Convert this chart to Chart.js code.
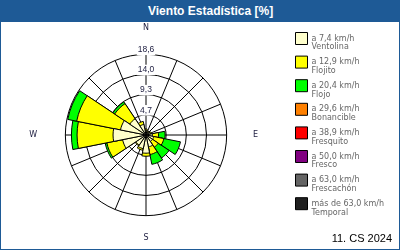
<!DOCTYPE html>
<html>
<head>
<meta charset="utf-8">
<script src="https://cdn.jsdelivr.net/npm/chart.js@4/dist/chart.umd.min.js"></script>
<style>
  html, body { margin: 0; padding: 0; background: #fff; }
  #frame { position: relative; width: 400px; height: 250px; box-sizing: border-box; border: 1px solid #1e5a96; overflow: hidden; }
  #head { position: absolute; left: 0; top: 0; width: 100%; height: 21px; background: #1e5a96; color: #fff;
          font: bold 12px "Liberation Sans", Arial, sans-serif; line-height: 21px; z-index: 2; }
  #head span { position: absolute; left: 147px; }
  canvas { position: absolute; left: -1px; top: -1px; }
  #foot { position: absolute; right: 7px; top: 231px; font: 11px "Liberation Sans", Arial, sans-serif; color: #000; z-index: 2; }
</style>
</head>
<body>
<div id="frame">
  <div id="head"><span>Viento Estadística [%]</span></div>
  <canvas id="rose" width="400" height="250"></canvas>
  <div id="foot">11. CS 2024</div>
</div>
<script>
// 16 directions, clockwise from north
const directions = ["N", "NNE", "NE", "ENE", "E", "ESE", "SE", "SSE", "S", "SSW", "SW", "WSW", "W", "WNW", "NW", "NNW"];
const compassLabels = ["N", "", "", "", "E", "", "", "", "S", "", "", "", "W", "", "", ""];

// frequency [%] per direction for each speed class
const ventolina  = [1.0, 0.8, 0.8, 1.0, 1.5, 1.8, 1.8, 2.8, 4.2, 3.2, 2.8, 5.5, 7.6, 6.0, 4.5, 2.5];
const flojito    = [0.4, 0.2, 0.2, 0.3, 1.4, 2.4, 1.6, 1.8, 0.7, 0.4, 0.2, 3.7, 8.3, 10.3, 4.2, 0.7];
const flojo      = [0, 0, 0, 0, 1.5, 3.9, 3.0, 2.3, 0, 0, 0, 0.4, 1.3, 2.1, 0.5, 0];
const bonancible = [0, 0, 0, 0, 0, 0, 0, 0, 0, 0, 0, 0, 0, 0, 0, 0];
const fresquito  = [0, 0, 0, 0, 0, 0, 0, 0, 0, 0, 0, 0, 0, 0, 0, 0];
const fresco     = [0, 0, 0, 0, 0, 0, 0, 0, 0, 0, 0, 0, 0, 0, 0, 0];
const frescachon = [0, 0, 0, 0, 0, 0, 0, 0, 0, 0, 0, 0, 0, 0, 0, 0];
const temporal   = [0, 0, 0, 0, 0, 0, 0, 0, 0, 0, 0, 0, 0, 0, 0, 0];

const speedRanges = ["a 7,4 km/h", "a 12,9 km/h", "a 20,4 km/h", "a 29,6 km/h", "a 38,9 km/h", "a 50,0 km/h", "a 63,0 km/h", "más de 63,0 km/h"];
const speedNames = ["Ventolina", "Flojito", "Flojo", "Bonancible", "Fresquito", "Fresco", "Frescachón", "Temporal"];
const speedColors = ["#ffffcc", "#ffff00", "#00ff00", "#ff8000", "#ff0000", "#800080", "#646464", "#202020"];
const classes = [ventolina, flojito, flojo, bonancible, fresquito, fresco, frescachon, temporal];

const tickValues = [0, 4.65, 9.3, 13.95, 18.6];
const tickLabels = ["", "4,7", "9,3", "14,0", "18,6"];
const rMax = 18.6;
const tickLift = 1.05; // labels sit just above their ring

// stacked rose: cumulative radius per class
// chart.js paints dataset 0 last, so the innermost class goes first
let running = directions.map(() => 0);
const cumulative = classes.map(vals => {
  running = running.map((s, i) => s + vals[i]);
  return running.slice();
});
const datasets = classes.map((vals, k) => ({
  label: speedNames[k],
  rAxisID: "r",
  data: cumulative[k].map((v, i) => vals[i] > 0 ? v : 0),
  backgroundColor: speedColors[k],
  borderColor: "#000",
  borderWidth: (c) => (c.raw > 0 ? 1 : 0)
}));

const tickFont = { family: "Liberation Sans", size: 8.5 };
const compassFont = { family: "DejaVu Sans", size: 8 };
const compassPadding = (c) => [16, 0, 0, 0, 21, 0, 0, 0, 12, 0, 0, 0, 23, 0, 0, 0][c.index];

new Chart(document.getElementById("rose"), {
  type: "polarArea",
  data: { labels: directions, datasets },
  options: {
    responsive: false,
    animation: false,
    events: [],
    layout: { padding: { left: 4, top: 21.5, right: 6, bottom: 4.5 } },
    plugins: {
      tooltip: { enabled: false },
      legend: {
        position: "right",
        align: "start",
        onClick: null,
        title: { display: true, text: "", padding: 0, font: { size: 5, lineHeight: 1 } },
        labels: {
          boxWidth: 12,
          boxHeight: 12,
          padding: 6,
          color: "#000",
          font: { family: "DejaVu Sans", size: 8, lineHeight: 1.1 },
          generateLabels: () => speedNames.map((name, k) => ({
            text: [speedRanges[k], name],
            fillStyle: speedColors[k],
            strokeStyle: "#000",
            lineWidth: 1,
            hidden: false,
            index: k
          }))
        }
      }
    },
    scales: {
      r: {
        min: 0,
        max: rMax,
        startAngle: -11.25,
        afterBuildTicks: (s) => { s.ticks = tickValues.map(v => ({ value: v })); },
        grid: { display: true, circular: true, color: "#000", lineWidth: 1 },
        angleLines: { display: false },
        ticks: { display: true, z: -1, color: "rgba(0,0,0,0)", showLabelBackdrop: false, backdropPadding: 1, font: tickFont, callback: () => "" },
        pointLabels: { display: true, centerPointLabels: true, font: compassFont, padding: compassPadding, color: "rgba(0,0,0,0)", callback: (l, i) => compassLabels[i] }
      },
      spokes: {
        type: "radialLinear",
        axis: "r",
        min: 0,
        max: rMax,
        startAngle: 0,
        afterBuildTicks: (s) => { s.ticks = tickValues.map(v => ({ value: v + tickLift })); },
        grid: { display: false },
        angleLines: { display: true, color: "#000", lineWidth: 1 },
        ticks: { display: true, z: 0, color: "#222244", showLabelBackdrop: true, backdropColor: "#fff", backdropPadding: 1, font: tickFont, callback: (v, i) => tickLabels[i] },
        pointLabels: { display: true, centerPointLabels: false, font: compassFont, padding: compassPadding, color: "#222244", callback: (l, i) => compassLabels[i] }
      }
    }
  }
});
</script>
</body>
</html>
